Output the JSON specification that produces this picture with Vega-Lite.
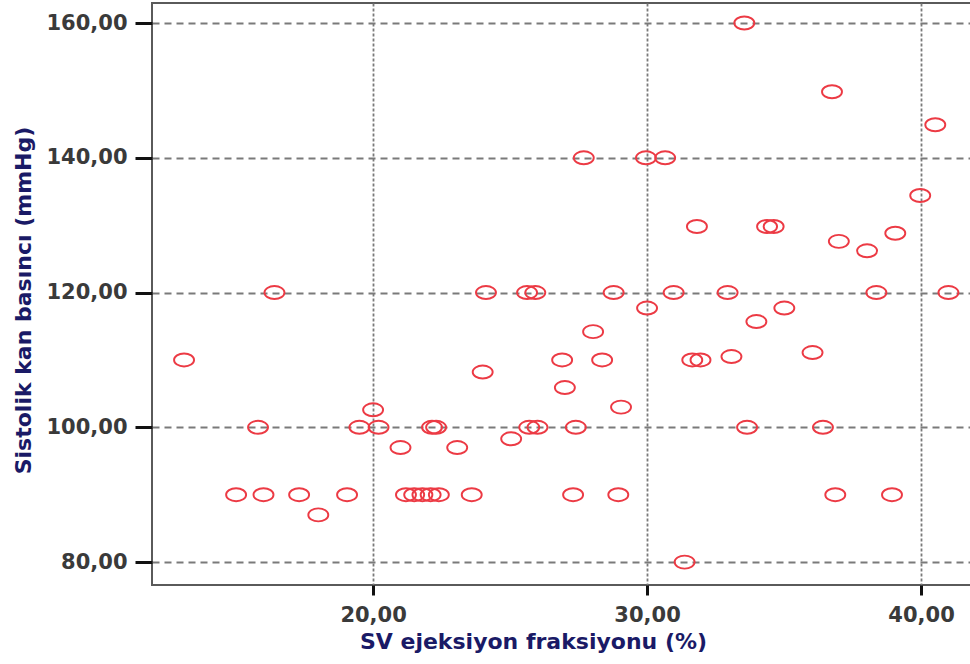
{
  "$schema": "https://vega.github.io/schema/vega-lite/v6.json",
  "autosize": {"type": "none"},
  "width": 820,
  "height": 582,
  "padding": {"left": 152, "top": 3, "right": 0, "bottom": 79},
  "background": "white",
  "config": {
    "view": {"stroke": "#5a5a5a", "strokeWidth": 2},
    "axis": {
      "domain": false,
      "labelFont": "DejaVu Sans",
      "labelFontWeight": "bold",
      "labelFontSize": 21,
      "labelColor": "#3a3a3a",
      "titleFont": "DejaVu Sans",
      "titleFontWeight": "bold",
      "titleFontSize": 22,
      "titleColor": "#1a1a66",
      "tickColor": "#111111",
      "tickWidth": 3,
      "gridColor": "#7a7a7a",
      "gridWidth": 1.8,
      "gridOpacity": 1
    }
  },
  "data": {
    "values": [
      {"ef": 13.1, "sbp": 110},
      {"ef": 16.4, "sbp": 120},
      {"ef": 15.8, "sbp": 100},
      {"ef": 15.0, "sbp": 90},
      {"ef": 16.0, "sbp": 90},
      {"ef": 17.3, "sbp": 90},
      {"ef": 18.0, "sbp": 87},
      {"ef": 19.05, "sbp": 90},
      {"ef": 21.2, "sbp": 90},
      {"ef": 21.5, "sbp": 90},
      {"ef": 21.8, "sbp": 90},
      {"ef": 22.1, "sbp": 90},
      {"ef": 22.4, "sbp": 90},
      {"ef": 23.6, "sbp": 90},
      {"ef": 27.3, "sbp": 90},
      {"ef": 28.95, "sbp": 90},
      {"ef": 36.87, "sbp": 90},
      {"ef": 38.94, "sbp": 90},
      {"ef": 31.37, "sbp": 80},
      {"ef": 19.5, "sbp": 100},
      {"ef": 20.2, "sbp": 100},
      {"ef": 22.15, "sbp": 100},
      {"ef": 22.3, "sbp": 100},
      {"ef": 25.7, "sbp": 100},
      {"ef": 26.0, "sbp": 100},
      {"ef": 27.4, "sbp": 100},
      {"ef": 33.65, "sbp": 100},
      {"ef": 36.42, "sbp": 100},
      {"ef": 20.0, "sbp": 102.6},
      {"ef": 29.05, "sbp": 103},
      {"ef": 21.0, "sbp": 97},
      {"ef": 23.07, "sbp": 97},
      {"ef": 25.04, "sbp": 98.3},
      {"ef": 27.0, "sbp": 105.9},
      {"ef": 24.0, "sbp": 108.2},
      {"ef": 26.9, "sbp": 110},
      {"ef": 28.36, "sbp": 110},
      {"ef": 31.65, "sbp": 110},
      {"ef": 31.95, "sbp": 110},
      {"ef": 33.08, "sbp": 110.5},
      {"ef": 36.04, "sbp": 111.1},
      {"ef": 28.03, "sbp": 114.2},
      {"ef": 33.99, "sbp": 115.7},
      {"ef": 30.0, "sbp": 117.7},
      {"ef": 35.01, "sbp": 117.7},
      {"ef": 24.12, "sbp": 120},
      {"ef": 25.62, "sbp": 120},
      {"ef": 25.92, "sbp": 120},
      {"ef": 28.78, "sbp": 120},
      {"ef": 30.97, "sbp": 120},
      {"ef": 32.94, "sbp": 120},
      {"ef": 38.37, "sbp": 120},
      {"ef": 41.0, "sbp": 120},
      {"ef": 31.82, "sbp": 129.8},
      {"ef": 34.38, "sbp": 129.8},
      {"ef": 34.62, "sbp": 129.8},
      {"ef": 37.0, "sbp": 127.6},
      {"ef": 38.03, "sbp": 126.2},
      {"ef": 39.06, "sbp": 128.8},
      {"ef": 39.97, "sbp": 134.4},
      {"ef": 27.69, "sbp": 140},
      {"ef": 29.96, "sbp": 140},
      {"ef": 30.66, "sbp": 140},
      {"ef": 40.52, "sbp": 144.9},
      {"ef": 36.75, "sbp": 149.8},
      {"ef": 33.55, "sbp": 160}
    ]
  },
  "mark": {
    "type": "point",
    "shape": "M-1,0A1,0.65,0,1,1,1,0A1,0.65,0,1,1,-1,0Z",
    "size": 400,
    "filled": false,
    "stroke": "#ec3a44",
    "strokeWidth": 1.9,
    "opacity": 1
  },
  "encoding": {
    "x": {
      "field": "ef",
      "type": "quantitative",
      "scale": {"domain": [11.93, 41.86], "nice": false, "zero": false},
      "axis": {
        "title": "SV ejeksiyon fraksiyonu (%)",
        "values": [20, 30, 40],
        "labelExpr": "replace(format(datum.value, '.2f'), '.', ',')",
        "tickSize": 10,
        "labelPadding": 9,
        "gridDash": [3, 2],
        "titleX": 381,
        "titleY": 63,
        "titleBaseline": "alphabetic",
        "titleAnchor": null
      }
    },
    "y": {
      "field": "sbp",
      "type": "quantitative",
      "scale": {"domain": [76.6, 162.97], "nice": false, "zero": false},
      "axis": {
        "title": "Sistolik kan basıncı (mmHg)",
        "values": [80, 100, 120, 140, 160],
        "labelExpr": "replace(format(datum.value, '.2f'), '.', ',')",
        "tickSize": 17,
        "labelPadding": 8,
        "gridDash": [7, 5],
        "titleX": -129,
        "titleY": 297,
        "titleBaseline": "middle",
        "titleAngle": -90
      }
    }
  }
}
